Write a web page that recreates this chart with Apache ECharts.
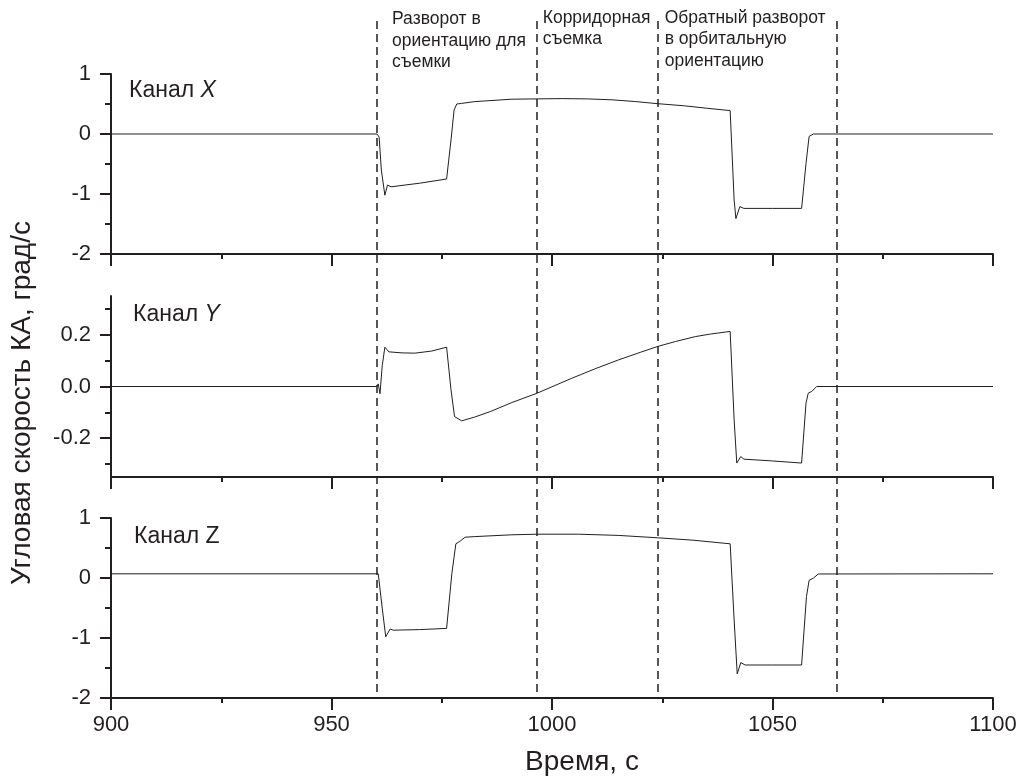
<!DOCTYPE html>
<html><head><meta charset="utf-8">
<script src="https://cdn.jsdelivr.net/npm/echarts@6/dist/echarts.min.js"></script>
<style>html,body{margin:0;padding:0;background:#fff}#c{width:1024px;height:777px}</style>
</head><body><div id="c"></div>
<script>
// ---- data ----
const tX=[900,960.3,960.8,961.3,962.1,962.7,963.5,970,976.1,977.1,977.8,978.4,979.5,982.5,990.9,996.6,1002.3,1008,1013.6,1019,1024,1030,1035,1040.4,1041.3,1041.7,1042.6,1043.5,1050,1056.6,1057.6,1058.3,1059.3,1061,1100];
const vX=[0,0,-0.05,-0.6,-1.02,-0.85,-0.88,-0.82,-0.75,-0.1,0.40,0.50,0.51,0.54,0.58,0.585,0.59,0.585,0.57,0.54,0.505,0.47,0.43,0.39,-1.1,-1.41,-1.21,-1.24,-1.24,-1.24,-0.49,-0.04,0,0,0];
const tY=[900,960.2,960.6,961.0,961.5,962.1,963.0,966,968.9,972.7,976.1,977.1,977.9,979.5,982.5,986,990.9,996.6,1004.5,1010,1015.1,1020,1024,1028,1032.5,1036,1040.4,1041.3,1041.9,1042.8,1043.5,1050,1056.6,1057.6,1058.1,1058.9,1060,1100];
const vY=[0,0,0.01,-0.028,0.08,0.152,0.134,0.130,0.129,0.137,0.152,-0.013,-0.116,-0.133,-0.118,-0.097,-0.062,-0.026,0.032,0.07,0.103,0.132,0.155,0.174,0.193,0.203,0.213,-0.129,-0.296,-0.271,-0.281,-0.288,-0.296,-0.064,-0.026,-0.019,0,0];
const tZ=[900,960.6,961.0,961.5,962.3,963.3,964.0,970,976.1,977.3,978.2,979.1,980.3,982.5,990.9,996.6,1006,1015,1024,1032,1040.4,1041.3,1042.0,1042.8,1043.8,1050,1056.6,1057.7,1058.3,1059.3,1060.4,1100];
const vZ=[0.07,0.07,0.05,-0.5,-0.98,-0.85,-0.87,-0.86,-0.84,0.08,0.57,0.61,0.68,0.69,0.72,0.73,0.73,0.71,0.67,0.63,0.57,-0.70,-1.60,-1.41,-1.45,-1.45,-1.45,-0.31,-0.04,0,0.067,0.07];
const phaseTimes=[960.2,996.6,1024,1064.6];
const phaseLabels=['Разворот в\nориентацию для\nсъемки','Корридорная\nсъемка','Обратный разворот\nв орбитальную\nориентацию'];
const channelNames=['X','Y','Z'];
const yMajorMid=[-0.2,0,0.2];
const yMinorMid=[-0.3,-0.1,0.1,0.3];
const xTitle='Время, с';
const yTitle='Угловая скорость КА, град/с';

// ---- chart ----
const INK='#231f20', FONT='"Liberation Sans", Arial, sans-serif';
const pairs=(t,v)=>t.map((x,i)=>[x,v[i]]);
function xAx(i,lab){return {type:'value',gridIndex:i,min:900,max:1100,interval:50,
  axisLine:{show:true,onZero:false,lineStyle:{color:INK,width:2}},
  axisTick:{show:true,length:12,lineStyle:{color:INK,width:2}},
  minorTick:{show:true,splitNumber:2,length:5,lineStyle:{color:INK,width:2}},
  splitLine:{show:false},minorSplitLine:{show:false},
  axisLabel:{show:lab,color:INK,fontSize:22,fontFamily:FONT,margin:16,formatter:v=>String(v)}};}
function yAx(i){return {type:'value',gridIndex:i,min:-2,max:1,interval:1,
  axisLine:{show:true,onZero:false,lineStyle:{color:INK,width:2}},
  axisTick:{show:true,length:11,lineStyle:{color:INK,width:2}},
  minorTick:{show:true,splitNumber:2,length:6,lineStyle:{color:INK,width:2}},
  splitLine:{show:false},
  axisLabel:{color:INK,fontSize:22,fontFamily:FONT,margin:20,formatter:v=>String(v)}};}
const grids=[
  {left:111,width:882,top:74,height:180},
  {left:111,width:882,top:296,height:181},
  {left:111,width:882,top:518,height:180},
  {left:111,width:882,top:21,height:671}
];
const yMid={type:'value',gridIndex:1,min:-0.35,max:0.35,position:'left',
  axisLine:{show:true,onZero:false,lineStyle:{color:INK,width:2}},
  axisTick:{show:true,length:11,customValues:yMajorMid,lineStyle:{color:INK,width:2}},
  splitLine:{show:false},
  axisLabel:{color:INK,fontSize:22,fontFamily:FONT,margin:20,customValues:yMajorMid,formatter:v=>v.toFixed(1)}};
const yMidMinor={type:'value',gridIndex:1,min:-0.35,max:0.35,position:'left',offset:0,
  axisLine:{show:false},axisLabel:{show:false},splitLine:{show:false},
  axisTick:{show:true,length:6,customValues:yMinorMid,lineStyle:{color:INK,width:2}}};
const lineSeries=(i,yi,d)=>({type:'line',xAxisIndex:i,yAxisIndex:yi,data:d,showSymbol:false,symbol:'none',
  lineStyle:{color:INK,width:1},animation:false,z:3});
const graphics=[];
const labPos=[[129,91],[133,315],[134,537]];
const italic=[true,true,false];
channelNames.forEach((n,i)=>graphics.push({type:'text',x:labPos[i][0],y:labPos[i][1],
  style:{text:'Канал {i|'+n+'}',fontSize:23,fontFamily:FONT,fill:INK,verticalAlign:'middle',
    rich:{i:{fontStyle:italic[i]?'italic':'normal',fontSize:23,fontFamily:FONT,fill:INK}}}}));
const annPos=[[392,8.5],[542.7,7],[664.7,7]];
phaseLabels.forEach((s,i)=>graphics.push({type:'text',x:annPos[i][0],y:annPos[i][1],
  style:{text:s,fontSize:17.5,lineHeight:21.5,fontFamily:FONT,fill:INK,verticalAlign:'top'}}));
graphics.push({type:'text',x:582,y:762,style:{text:xTitle,fontSize:28,fontFamily:FONT,fill:INK,align:'center',verticalAlign:'middle'}});
graphics.push({type:'text',x:22,y:403,rotation:Math.PI/2,style:{text:yTitle,fontSize:28,fontFamily:FONT,fill:INK,align:'center',verticalAlign:'middle'}});

const chart=echarts.init(document.getElementById('c'),null,{renderer:'canvas'});
chart.setOption({
  backgroundColor:'#fff',animation:false,
  grid:grids,
  xAxis:[xAx(0,false),xAx(1,false),xAx(2,true),{type:'value',gridIndex:3,min:900,max:1100,show:false}],
  yAxis:[yAx(0),yMid,yAx(2),yMidMinor,{type:'value',gridIndex:3,min:0,max:1,show:false}],
  series:[
    lineSeries(0,0,pairs(tX,vX)),
    lineSeries(1,1,pairs(tY,vY)),
    lineSeries(2,2,pairs(tZ,vZ)),
    {type:'line',xAxisIndex:3,yAxisIndex:4,data:[],showSymbol:false,
      markLine:{silent:true,symbol:['none','none'],animation:false,label:{show:false},
        lineStyle:{type:[8,5],color:INK,width:1.5},
        data:phaseTimes.map(t=>({xAxis:t}))}}
  ],
  graphic:graphics
});
</script></body></html>
